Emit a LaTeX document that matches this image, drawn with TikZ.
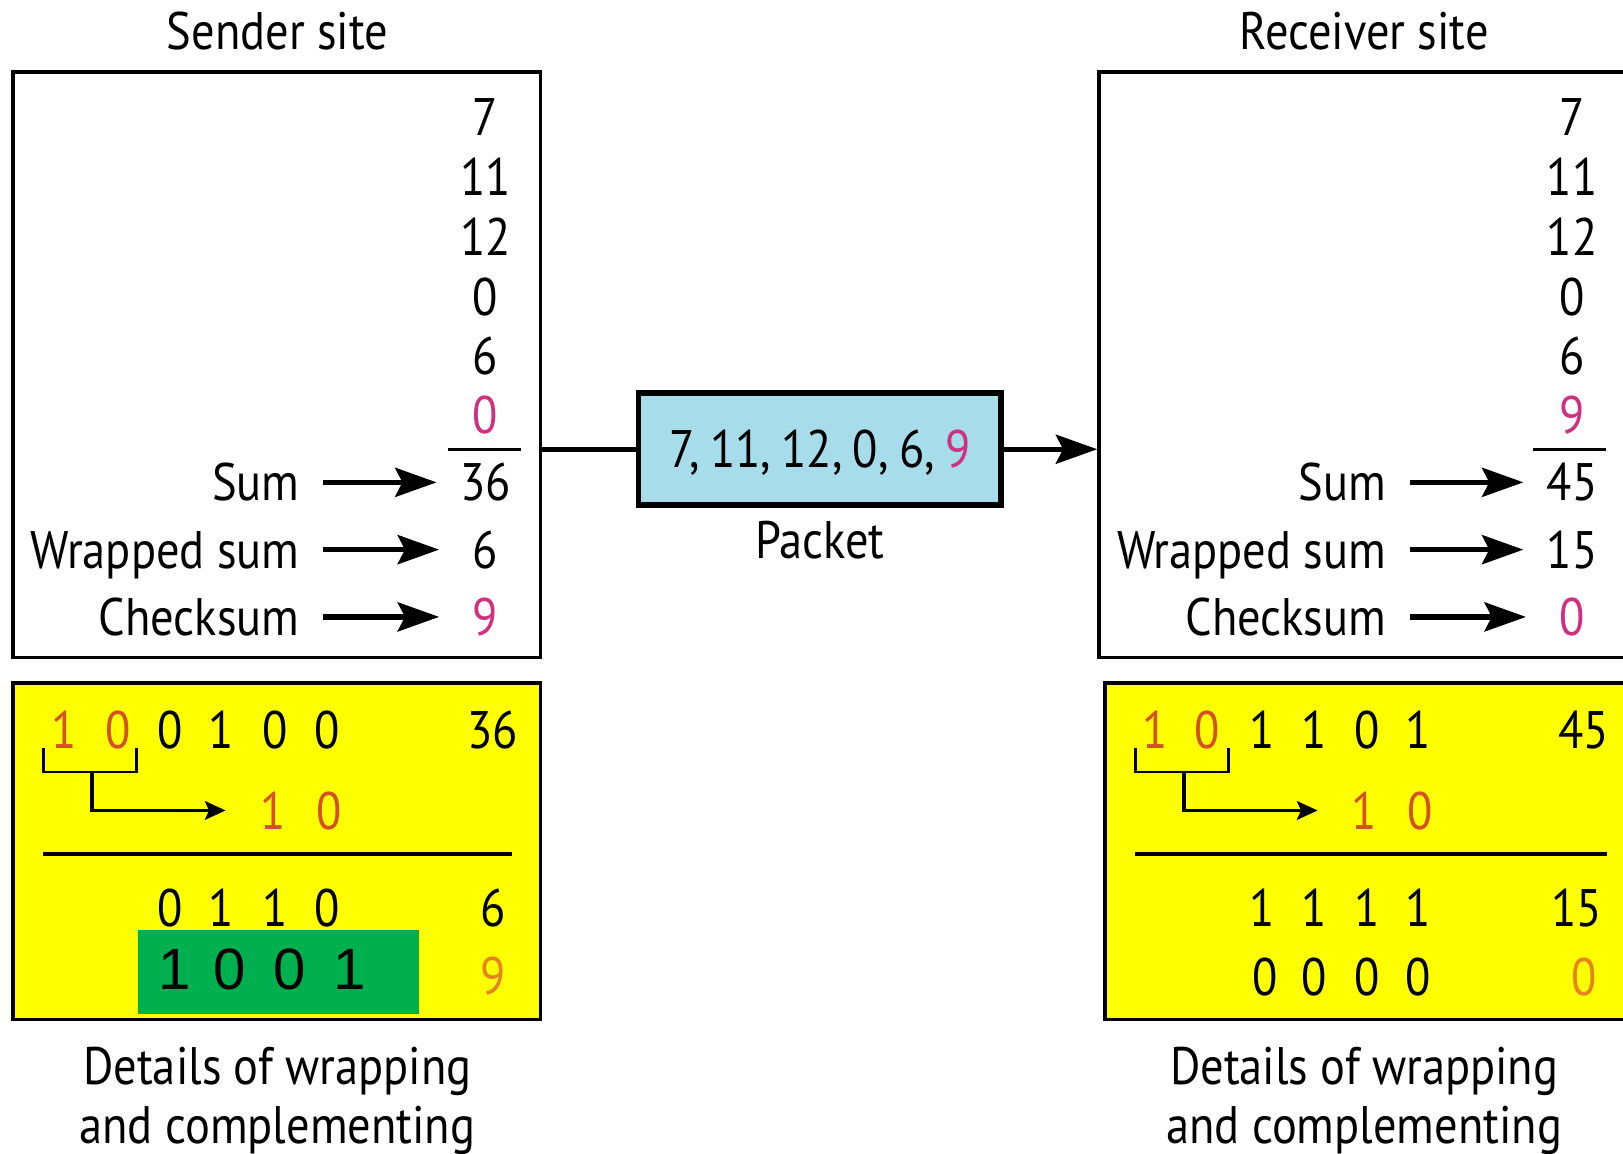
\documentclass[tikz,border=0pt]{standalone}
\usepackage{fontspec}
\setmainfont[FakeStretch=0.88]{PT Sans}
\newfontfamily\arialfont{Liberation Sans}
\usetikzlibrary{positioning,arrows.meta}
\definecolor{chkpink}{HTML}{D12F80}
\definecolor{carryred}{HTML}{D4502A}
\definecolor{chkorange}{HTML}{E8821E}
\definecolor{pktblue}{HTML}{A7DCEA}
\definecolor{boxyellow}{HTML}{FFFF00}
\definecolor{boxgreen}{HTML}{00B04F}
\begin{document}
\begin{tikzpicture}[>={Stealth[length=0.4cm,width=0.28cm,inset=0.07cm]}, x=0.01cm, y=-0.01cm,
    every node/.style={font=\fontsize{14.5}{16.5}\selectfont, inner sep=0pt,
      text height=0.36cm, text depth=0pt},
    site/.style={draw, line width=1pt, minimum height=5.65cm},
    work/.style={draw, line width=1pt, fill=boxyellow, minimum height=3.25cm},
    val/.style={minimum width=0.44cm},
    conn/.style={->, line width=1.5pt, shorten <=0.22cm, shorten >=0.22cm},
    carry/.style={-{Stealth[length=0.2cm,width=0.18cm,inset=0.04cm]}, line width=.9pt}]
    \useasboundingbox (0,0) rectangle (1568,1114);
    % sites
    \node at (268,30) {Sender site};
    \node at (1318,30) {Receiver site};
    \node [site, minimum width=5.09cm] (sender) at (267.5,352.5) {};
    \node [site, minimum width=5.18cm] (receiver) at (1321,352.5) {};
    % sender column
    \foreach \y/\v in {113/7, 171/11, 229/12, 287/0, 344/6, 401/{\color{chkpink}0}}
        \node at (469,\y) {\v};
    \draw [line width=.7pt] (433,434) -- (503,434);
    \foreach \y/\t/\v [count=\i] in {466/Sum/36, 531/Wrapped sum/6, 596/Checksum/{\color{chkpink}9}} {
        \node [anchor=east] (sl\i) at (290,\y) {\t};
        \node [val] (sv\i) at (469,\y) {\v};
        \draw [conn] (sl\i) -- (sv\i);
    }
    % receiver column
    \foreach \y/\v in {113/7, 171/11, 229/12, 287/0, 344/6, 401/{\color{chkpink}9}}
        \node at (1519,\y) {\v};
    \draw [line width=.7pt] (1481,434) -- (1552,434);
    \foreach \y/\t/\v [count=\i] in {466/Sum/45, 531/Wrapped sum/15, 596/Checksum/{\color{chkpink}0}} {
        \node [anchor=east] (rl\i) at (1340,\y) {\t};
        \node [val] (rv\i) at (1519,\y) {\v};
        \draw [conn] (rl\i) -- (rv\i);
    }
    % packet
    \node [draw, line width=1.6pt, fill=pktblue, minimum width=3.5cm, minimum height=1.08cm]
        (packet) at (792,434) {7,\hspace{.1cm}11,\hspace{.1cm}12,\hspace{.1cm}0,\hspace{.1cm}6,\hspace{.1cm}{\color{chkpink}9}};
    \node at (792,522) {Packet};
    \draw [line width=1.5pt] (packet.west -| sender.east) -- (packet.west);
    \draw [->, line width=1.5pt] (packet.east) -- (packet.east -| receiver.west);
    % sender details
    \node [work, minimum width=5.09cm] (swork) at (267.5,822.5) {};
    \foreach \x/\b in {62/{\color{carryred}1}, 114/{\color{carryred}0}, 164/0, 214/1, 266/0, 316/0}
        \node at (\x,705) {\b};
    \node at (476,705) {36};
    \draw [line width=.7pt] (42,723) -- (42,746) -- (132,746) -- (132,723);
    \coordinate (scarry) at (89,746);
    \node [text=carryred] (sten) at (291,783) {1\hspace{0.3cm}0};
    \draw [carry] (scarry) |- (218,783);
    \draw [line width=1pt] (42,825) -- (495,825);
    \foreach \x/\b in {164/0, 214/1, 266/1, 316/0}
        \node at (\x,877) {\b};
    \node at (476,877) {6};
    \fill [boxgreen] (133,898) rectangle (405,980);
    \foreach \x/\b in {169/1, 222/0, 280/0, 338/1}
        \node [font=\arialfont\fontsize{16}{18}\selectfont] at (\x,938) {\b};
    \node [text=chkorange] at (476,943) {9};
    \node at (268,1030) {Details of wrapping};
    \node at (268,1087) {and complementing};
    % receiver details
    \node [work, minimum width=5.12cm] (rwork) at (1324,822.5) {};
    \foreach \x/\b in {1116/{\color{carryred}1}, 1166/{\color{carryred}0}, 1219/1, 1270/1, 1321/0, 1370/1}
        \node at (\x,705) {\b};
    \node at (1530,705) {45};
    \draw [line width=.7pt] (1097,723) -- (1097,746) -- (1187,746) -- (1187,723);
    \coordinate (rcarry) at (1144,746);
    \node [text=carryred] (rten) at (1345,783) {1\hspace{0.3cm}0};
    \draw [carry] (rcarry) |- (1273,783);
    \draw [line width=1pt] (1097,825) -- (1553,825);
    \foreach \x/\b in {1219/1, 1270/1, 1321/1, 1370/1}
        \node at (\x,877) {\b};
    \node at (1523,877) {15};
    \foreach \x/\b in {1222/0, 1270/0, 1321/0, 1370/0}
        \node at (\x,944) {\b};
    \node [text=chkorange] at (1530,944) {0};
    \node at (1318,1030) {Details of wrapping};
    \node at (1318,1087) {and complementing};
\end{tikzpicture}
\end{document}
